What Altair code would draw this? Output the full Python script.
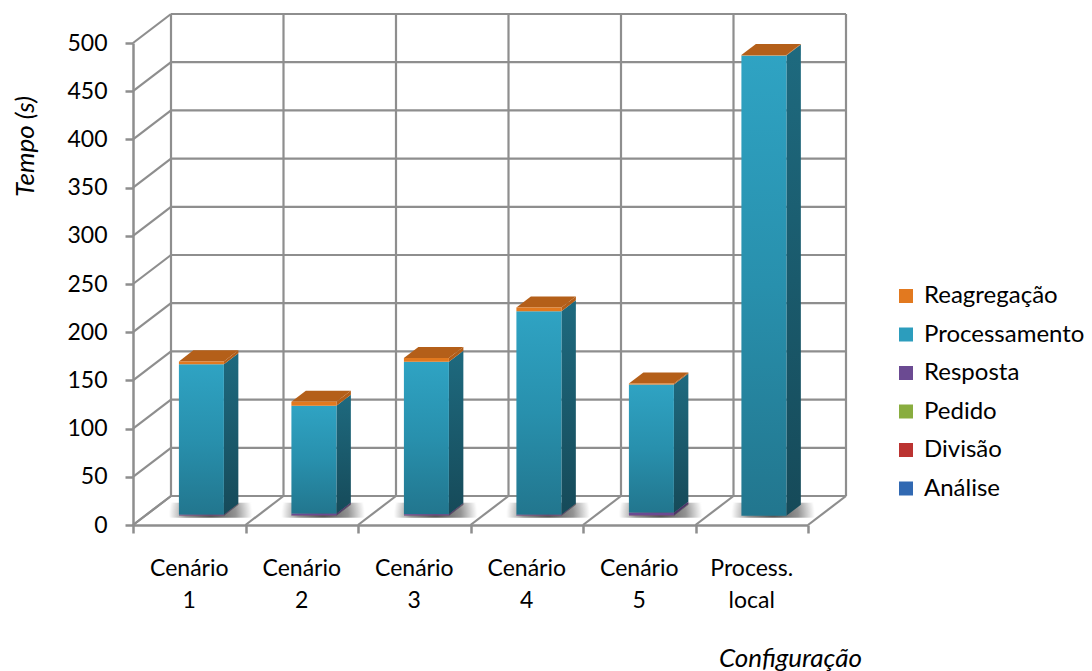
import altair as alt
import pandas as pd

# ---- data -------------------------------------------------------------
configs = ["Cenário 1", "Cenário 2", "Cenário 3", "Cenário 4", "Cenário 5", "Process. local"]

analise = [0.3, 0.3, 0.3, 0.3, 0.3, 0.0]
divisao = [0.1, 0.1, 0.1, 0.1, 0.1, 0.0]
pedido = [0.2, 0.2, 0.2, 0.2, 0.2, 0.0]
resposta = [0.5, 1.5, 1.0, 0.5, 2.5, 0.0]
processamento = [156.0, 112.0, 158.0, 211.0, 133.0, 477.5]
reagregacao = [3.0, 4.0, 4.0, 4.0, 1.0, 0.5]

# stacking order, bottom to top
stack_order = ["Análise", "Divisão", "Pedido", "Resposta", "Processamento", "Reagregação"]
series_values = {
    "Análise": analise,
    "Divisão": divisao,
    "Pedido": pedido,
    "Resposta": resposta,
    "Processamento": processamento,
    "Reagregação": reagregacao,
}
legend_order = stack_order[::-1]
front_colors = ["#e2791f", "#2c9dbd", "#6b4a92", "#89ad3f", "#bb3331", "#3169b2"]
side_colors = ["#b35d17", "#1c6377", "#4b3368", "#5f7a2b", "#832322", "#22497d"]

y_ticks = list(range(0, 501, 50))

# ---- geometry of the oblique 3-D view -----------------------------------
W, H = 675, 482
N = len(configs)
YMAX = 500
px_x = W / N
px_y = H / YMAX
DX = 38 / px_x          # full floor depth, in category units
DY = 29 / px_y          # full floor depth, in value units
F1, F2 = 0.32, 0.70     # front and back of the columns within the depth
BW = 0.40               # column width, in category units

front_rows, side_rows, top_rows, shadow_rows = [], [], [], []
for i, cat in enumerate(configs):
    left = i + (1 - BW) / 2
    right = left + BW
    shadow_rows.append(dict(cat=cat, x=left + F1 * DX - 10 / px_x, x2=right + F2 * DX + 14 / px_x,
                            y=F1 * DY - 2 / px_y, y2=F2 * DY + 2 / px_y))
    lo = 0.0
    for s in stack_order:
        v = series_values[s][i]
        hi = lo + v
        if v > 0:
            front_rows.append(dict(cat=cat, series=s, x=left + F1 * DX, x2=right + F1 * DX,
                                   y=lo + F1 * DY, y2=hi + F1 * DY))
            for f in (F1, F2):
                side_rows.append(dict(seg=f"{i}-{s}", series=s, x=right + f * DX,
                                      y=lo + f * DY, y2=hi + f * DY))
        lo = hi
    for f in (F1, F2):
        top_rows.append(dict(cat=cat, y=lo + f * DY, x=left + f * DX, x2=right + f * DX))

front = pd.DataFrame(front_rows)
side = pd.DataFrame(side_rows)
top = pd.DataFrame(top_rows)
shadow = pd.DataFrame(shadow_rows)

grid_rows = []
for v in y_ticks:
    grid_rows.append(dict(x=DX, x2=N + DX, y=v + DY, y2=v + DY))   # back wall
    grid_rows.append(dict(x=0, x2=DX, y=v, y2=v + DY))             # side wall
for k in range(N + 1):
    grid_rows.append(dict(x=k + DX, x2=k + DX, y=DY, y2=YMAX + DY))  # back wall
    grid_rows.append(dict(x=k, x2=k + DX, y=0, y2=DY))               # floor
grid = pd.DataFrame(grid_rows)

labels = pd.DataFrame({"cat": configs, "x": [i + 0.5 for i in range(N)]})

# ---- shared encodings --------------------------------------------------
FONT = "Lato"
GRID = "#8e8e8e"

x_scale = alt.Scale(domain=[0, N], nice=False, zero=False)
y_scale = alt.Scale(domain=[0, YMAX], nice=False, zero=True)

x_axis = alt.Axis(values=list(range(N + 1)), labels=False, grid=False,
                  domainColor=GRID, domainWidth=2.5, tickColor=GRID, tickWidth=2.5, tickSize=8,
                  title="Configuração", titleFont=FONT, titleFontSize=26, titleFontStyle="italic",
                  titleFontWeight="normal", titleColor="#000000", titleX=657, titleY=141,
                  titleAlign="center", titleBaseline="alphabetic")
y_axis = alt.Axis(values=y_ticks, grid=False, domainColor=GRID, domainWidth=2.5,
                  tickColor=GRID, tickWidth=2.5, tickSize=8, labelPadding=18,
                  labelFont=FONT, labelFontSize=23, labelColor="#000000",
                  title="Tempo (s)", titleFont=FONT, titleFontSize=26, titleFontStyle="italic",
                  titleFontWeight="normal", titleColor="#000000", titleX=-108, titleY=103,
                  titleAngle=-90, titleAlign="center", titleBaseline="middle")


def X(field="x"):
    return alt.X(f"{field}:Q", scale=x_scale, axis=x_axis)


def Y(field="y"):
    return alt.Y(f"{field}:Q", scale=y_scale, axis=y_axis)


# ---- layers -------------------------------------------------------------
grid_layer = alt.Chart(grid).mark_rule(color=GRID, strokeWidth=2.2).encode(
    x=X(), x2="x2:Q", y=Y(), y2="y2:Q"
)

# soft floor shadow under each column
shadow_fill = alt.RadialGradient(
    gradient="radial", x1=0.5, y1=0.55, r1=0, x2=0.5, y2=0.55, r2=0.5,
    stops=[alt.GradientStop(color="rgba(40,40,40,0.8)", offset=0),
           alt.GradientStop(color="rgba(40,40,40,0.5)", offset=0.6),
           alt.GradientStop(color="rgba(40,40,40,0)", offset=1)],
)
shadow_layer = alt.Chart(shadow).mark_rect(color=shadow_fill).encode(
    x=X(), x2="x2:Q", y=Y(), y2="y2:Q"
)

teal_front = alt.LinearGradient(
    gradient="linear", x1=0, x2=0, y1=0, y2=1,
    stops=[alt.GradientStop(color="#2fa3c3", offset=0),
           alt.GradientStop(color="#2890ad", offset=0.5),
           alt.GradientStop(color="#22768e", offset=1)],
)
teal_side = alt.LinearGradient(
    gradient="linear", x1=0, x2=0, y1=0, y2=1,
    stops=[alt.GradientStop(color="#1e6a7f", offset=0),
           alt.GradientStop(color="#164a59", offset=1)],
)

side_teal = alt.Chart(side).transform_filter(
    alt.datum.series == "Processamento"
).mark_area(color=teal_side, orient="vertical").encode(
    x=X(), y=Y(), y2="y2:Q", detail="seg:N"
)
side_other = alt.Chart(side).transform_filter(
    alt.datum.series != "Processamento"
).mark_area(orient="vertical").encode(
    x=X(), y=Y(), y2="y2:Q", detail="seg:N",
    fill=alt.Fill("series:N", scale=alt.Scale(domain=legend_order, range=side_colors), legend=None),
)

top_layer = alt.Chart(top).mark_area(orient="horizontal", color="#b45f19").encode(
    y=Y(), x=X(), x2="x2:Q", detail="cat:N"
)

front_teal = alt.Chart(front).transform_filter(
    alt.datum.series == "Processamento"
).mark_rect(color=teal_front).encode(x=X(), x2="x2:Q", y=Y(), y2="y2:Q")

front_other = alt.Chart(front).transform_filter(
    alt.datum.series != "Processamento"
).mark_rect().encode(
    x=X(), x2="x2:Q", y=Y(), y2="y2:Q",
    color=alt.Color(
        "series:N",
        scale=alt.Scale(domain=legend_order, range=front_colors),
        legend=alt.Legend(
            title=None, orient="none", legendX=761, legendY=241, padding=0,
            symbolType="square", symbolSize=196, symbolStrokeWidth=0,
            labelFont=FONT, labelFontSize=24, labelColor="#000000",
            labelOffset=6, rowPadding=14.5, labelLimit=300,
        ),
    ),
)

cat_labels = alt.Chart(labels).mark_text(
    font=FONT, fontSize=23, color="#000000", lineBreak=" ", lineHeight=32,
    baseline="top", align="center", dy=33,
).encode(x=X(), y=alt.Y("zero:Q", scale=y_scale, axis=y_axis), text="cat:N").transform_calculate(zero="0")

chart = alt.layer(
    grid_layer, shadow_layer, side_teal, side_other, top_layer, front_teal, front_other, cat_labels
).resolve_scale(
    fill="independent", color="independent"
).properties(
    width=W, height=H,
    background="#ffffff",
    padding={"left": 133, "top": 43, "right": 1092 - 133 - W, "bottom": 671 - 43 - H},
    autosize=alt.AutoSizeParams(type="none"),
).configure_view(stroke=None, strokeWidth=0)

chart.save("out.html", embed_options={"renderer": "svg", "actions": False})
